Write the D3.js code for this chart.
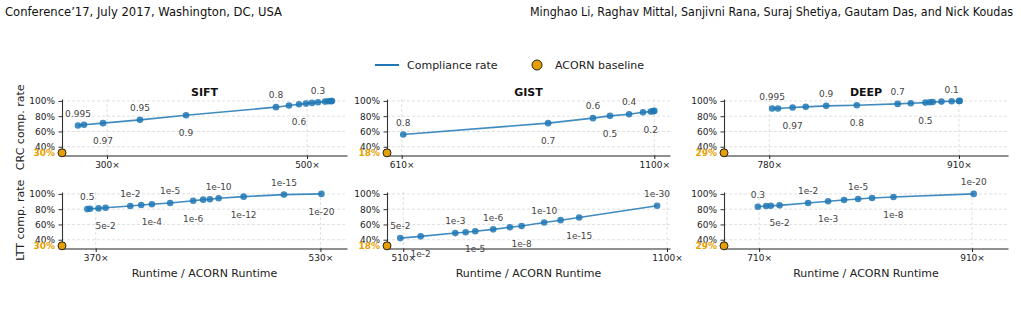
<!DOCTYPE html>
<html><head><meta charset="utf-8">
<script src="https://cdn.jsdelivr.net/npm/d3@7"></script>
<style>body{margin:0;background:#fff} svg{display:block}</style>
</head><body><svg id="c" width="1021" height="312"></svg>
<script>
const datasets = ["SIFT", "GIST", "DEEP"];
const methods = ["CRC", "LTT"];
const acornBaseline = [30, 18, 29];

const siftCrcX = [271, 277, 296, 333, 379, 469, 482, 492, 499, 505, 511, 518, 521, 524, 525];
const siftCrcY = [67.8, 68.7, 70.9, 75.2, 81.3, 91.8, 93.9, 95.7, 96.5, 97.4, 98.3, 99.1, 99.5, 99.7, 99.9];
const siftCrcLabels = ["0.995","","0.97","0.95","0.9","0.8","","0.6","","","0.3","","","",""];

const gistCrcX = [613, 894, 981, 1014, 1051, 1078, 1093, 1098, 1100];
const gistCrcY = [56.0, 70.9, 77.4, 80.4, 82.6, 85.2, 86.0, 86.6, 86.9];
const gistCrcLabels = ["0.8","0.7","0.6","0.5","0.4","","0.2","",""];

const deepCrcX = [782, 786, 796, 805, 819, 840, 868, 877, 887, 890, 892, 898, 905, 910, 910.5];
const deepCrcY = [90.0, 90.0, 91.3, 92.2, 93.5, 94.4, 96.1, 97.0, 97.8, 98.3, 98.6, 99.1, 99.6, 99.9, 100];
const deepCrcLabels = ["0.995","","0.97","","0.9","0.8","0.7","","0.5","","","","0.1","",""];

const siftLttX = [364, 366, 372, 377, 394.6, 402.4, 410, 423, 439.4, 446.5, 451.3, 457.5, 475.3, 504, 530.7];
const siftLttY = [80.1, 80.5, 81.0, 81.9, 84.1, 85.4, 86.4, 88.1, 91.1, 92.5, 93.0, 94.3, 96.4, 99.1, 100];
const siftLttLabels = ["0.5","","","5e-2","1e-2","","1e-4","1e-5","1e-6","","","1e-10","1e-12","1e-15","1e-20"];

const gistLttX = [503.3, 548.9, 626.3, 649.5, 671, 711.2, 748.5, 774.7, 825.2, 861.9, 903.5, 1077.8];
const gistLttY = [42.1, 44.4, 48.7, 49.7, 51.0, 53.6, 56.3, 58.0, 62.5, 65.6, 69.1, 84.5];
const gistLttLabels = ["5e-2","1e-2","1e-3","","1e-5","1e-6","","1e-8","1e-10","","1e-15","1e-30"];

const deepLttX = [708.8, 716.6, 721, 729.2, 756, 774.8, 789.8, 803, 816.1, 836.2, 911.6];
const deepLttY = [83.2, 84.1, 84.5, 85.0, 88.1, 90.3, 92.1, 93.4, 94.7, 96.0, 100];
const deepLttLabels = ["0.3","","","5e-2","1e-2","1e-3","","1e-5","","1e-8","1e-20"];

const crcXDomains = [[255, 540], [581.5, 1130.4], [749, 943.6]];
const lttXDomains = [[346, 548.9], [473.6, 1106.7], [677, 943.8]];
const crcXTicks = [[300, 500], [610, 1100], [780, 910]];
const lttXTicks = [[370, 530], [510, 1100], [710, 910]];
const yTicks = [40, 60, 80, 100];
const yDomain = [28.5, 102.5];
const baselineFloor = 32;

const series = {
  CRC: [
    {x: siftCrcX, y: siftCrcY, labels: siftCrcLabels},
    {x: gistCrcX, y: gistCrcY, labels: gistCrcLabels},
    {x: deepCrcX, y: deepCrcY, labels: deepCrcLabels}
  ],
  LTT: [
    {x: siftLttX, y: siftLttY, labels: siftLttLabels},
    {x: gistLttX, y: gistLttY, labels: gistLttLabels},
    {x: deepLttX, y: deepLttY, labels: deepLttLabels}
  ]
};
const xDomains = {CRC: crcXDomains, LTT: lttXDomains};
const xTicks = {CRC: crcXTicks, LTT: lttXTicks};

const BLUE = "#1f77b4", ORANGE = "#E69F00";
const FONT = "DejaVu Sans, sans-serif";
const svg = d3.select("#c");

// header
svg.append("text").attr("x", 5).attr("y", 16)
  .attr("font-family", "Liberation Sans Narrow, DejaVu Sans Condensed, sans-serif")
  .attr("font-size", 12.5).attr("fill", "#111")
  .attr("textLength", 277).attr("lengthAdjust", "spacingAndGlyphs")
  .text("Conference’17, July 2017, Washington, DC, USA");
svg.append("text").attr("x", 1013).attr("y", 16).attr("text-anchor", "end")
  .attr("font-family", "Liberation Sans Narrow, DejaVu Sans Condensed, sans-serif")
  .attr("font-size", 12.5).attr("fill", "#111")
  .attr("textLength", 483).attr("lengthAdjust", "spacingAndGlyphs")
  .text("Minghao Li, Raghav Mittal, Sanjivni Rana, Suraj Shetiya, Gautam Das, and Nick Koudas");

// legend
const lg = svg.append("g");
lg.append("line").attr("x1", 375).attr("x2", 399).attr("y1", 65).attr("y2", 65)
  .attr("stroke", BLUE).attr("stroke-width", 2);
lg.append("text").attr("x", 407).attr("y", 69).attr("font-family", FONT).attr("font-size", 11)
  .attr("fill", "#222").text("Compliance rate");
lg.append("circle").attr("cx", 537).attr("cy", 65).attr("r", 5)
  .attr("fill", ORANGE).attr("stroke", "#222").attr("stroke-width", 1);
lg.append("text").attr("x", 555).attr("y", 69).attr("font-family", FONT).attr("font-size", 11)
  .attr("fill", "#222").text("ACORN baseline");

const colLeft = [62, 387, 724], colRight = [347, 670, 1008];
const rowTop = [99, 192], rowBottom = [155.5, 248.5];

methods.forEach((m, r) => {
  datasets.forEach((ds, c) => {
    const s = series[m][c];
    const x = d3.scaleLinear().domain(xDomains[m][c]).range([colLeft[c], colRight[c]]);
    const y = d3.scaleLinear().domain(yDomain).range([rowBottom[r], rowTop[r]]);
    const g = svg.append("g");

    // grid
    g.selectAll(".hg").data(yTicks).join("line")
      .attr("x1", colLeft[c]).attr("x2", colRight[c])
      .attr("y1", d => y(d)).attr("y2", d => y(d))
      .attr("stroke", "#d8d8d8").attr("stroke-width", 0.8).attr("stroke-dasharray", "3,2");
    g.selectAll(".vg").data(xTicks[m][c]).join("line")
      .attr("x1", d => x(d)).attr("x2", d => x(d))
      .attr("y1", rowTop[r]).attr("y2", rowBottom[r])
      .attr("stroke", "#d8d8d8").attr("stroke-width", 0.8).attr("stroke-dasharray", "3,2");

    // axes
    const xa = g.append("g").attr("transform", `translate(0,${rowBottom[r]})`)
      .call(d3.axisBottom(x).tickValues(xTicks[m][c]).tickFormat(d => d + "×")
        .tickSizeInner(3.5).tickSizeOuter(0).tickPadding(3));
    xa.select(".domain").attr("stroke", "#222").attr("stroke-width", 1.1);
    xa.selectAll(".tick line").attr("stroke", "#222");
    xa.selectAll("text").attr("font-family", FONT).attr("font-size", 9).attr("fill", "#222");

    const ya = g.append("g").attr("transform", `translate(${colLeft[c]},0)`)
      .call(d3.axisLeft(y).tickValues(yTicks).tickFormat(d => d + "%")
        .tickSizeInner(3.5).tickSizeOuter(0).tickPadding(3.5));
    ya.select(".domain").attr("stroke", "#333").attr("stroke-width", 1.1);
    ya.selectAll(".tick line").attr("stroke", "#333");
    ya.selectAll("text").attr("font-family", FONT).attr("font-size", 9).attr("fill", "#222");

    // baseline label
    const by = y(Math.max(acornBaseline[c], baselineFloor));
    g.append("text").attr("x", colLeft[c] - 7).attr("y", by).attr("dy", "0.35em")
      .attr("text-anchor", "end").attr("font-family", FONT).attr("font-size", 9)
      .attr("font-weight", "bold").attr("fill", ORANGE).text(acornBaseline[c] + "%");

    // series
    const pts = s.x.map((v, i) => ({x: v, y: s.y[i], label: s.labels[i]}));
    g.append("path").datum(pts)
      .attr("d", d3.line().x(d => x(d.x)).y(d => y(d.y)))
      .attr("fill", "none").attr("stroke", BLUE).attr("stroke-opacity", 0.85).attr("stroke-width", 1.6);
    g.selectAll(".pt").data(pts).join("circle")
      .attr("cx", d => x(d.x)).attr("cy", d => y(d.y)).attr("r", 3.3)
      .attr("fill", BLUE).attr("fill-opacity", 0.85);

    let k = 0;
    pts.forEach(d => {
      if (!d.label) return;
      const above = (k % 2 === 0); k++;
      g.append("text").attr("x", x(d.x)).attr("y", y(d.y) + (above ? -8.7 : 21))
        .attr("text-anchor", "middle").attr("font-family", FONT).attr("font-size", 9)
        .attr("fill", "#444").text(d.label);
    });

    // baseline dot
    g.append("circle").attr("cx", x(xDomains[m][c][0])).attr("cy", by).attr("r", 4)
      .attr("fill", ORANGE).attr("stroke", "#222").attr("stroke-width", 1);

    if (r === 0) {
      g.append("text").attr("x", (colLeft[c] + colRight[c]) / 2).attr("y", 95.5)
        .attr("text-anchor", "middle").attr("font-family", FONT).attr("font-size", 11)
        .attr("font-weight", "bold").attr("fill", "#111").text(ds);
    } else {
      g.append("text").attr("x", (colLeft[c] + colRight[c]) / 2).attr("y", 277)
        .attr("text-anchor", "middle").attr("font-family", FONT).attr("font-size", 11)
        .attr("fill", "#222").text("Runtime / ACORN Runtime");
    }
    if (c === 0) {
      const cy = (rowTop[r] + rowBottom[r]) / 2;
      g.append("text").attr("transform", `translate(24,${cy}) rotate(-90)`)
        .attr("text-anchor", "middle").attr("font-family", FONT).attr("font-size", 11)
        .attr("fill", "#222").text(m + " comp. rate");
    }
  });
});
</script></body></html>
